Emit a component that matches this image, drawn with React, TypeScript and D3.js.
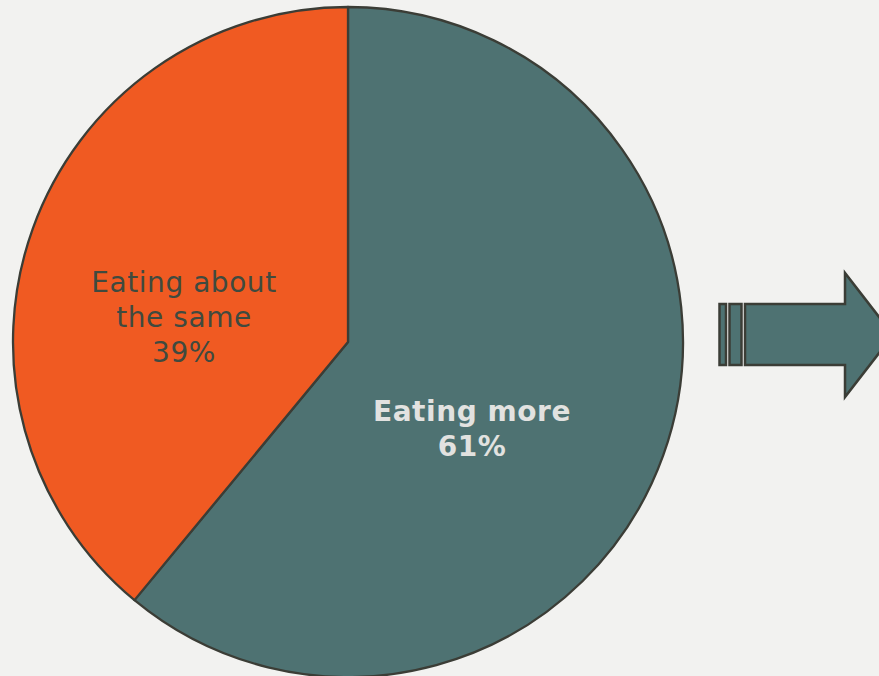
import React from "react";
import * as d3 from "d3";

const categories = ["Eating more", "Eating about the same"];
const values = [61, 39];
const labelLines = [["Eating more", "61%"], ["Eating about", "the same", "39%"]];
const colors = ["#4e7272", "#f05a22"];

const W = 879;
const H = 676;

export default function App() {
  const cx = 348;
  const cy = 342;
  const r = 335;
  const pie = d3.pie<number>().sort(null).value((d) => d);
  const arcs = pie(values);
  const arcGen = d3.arc<d3.PieArcDatum<number>>().innerRadius(0).outerRadius(r);
  const labelPos = [
    { x: 472, y: 421, color: "#e2e2e0", weight: "bold" },
    { x: 184, y: 292, color: "#3f4a3f", weight: "normal" },
  ];
  const lineH = 35;

  // arrow geometry
  const bodyTop = 304, bodyBot = 365, headTop = 273, headBot = 397;
  const bodyX0 = 745, headX = 845, tipX = 893;
  const midY = (headTop + headBot) / 2;
  const arrowPath = `M${bodyX0},${bodyTop} L${headX},${bodyTop} L${headX},${headTop} L${tipX},${midY} L${headX},${headBot} L${headX},${bodyBot} L${bodyX0},${bodyBot} Z`;

  return (
    <svg
      width={W}
      height={H}
      style={{ position: "absolute", left: 0, top: 0, display: "block" }}
      fontFamily="Verdana, 'DejaVu Sans', sans-serif"
    >
      <rect x={0} y={0} width={W} height={H} fill="#f2f2f0" />
      <g transform={`translate(${cx},${cy})`}>
        {arcs.map((a, i) => (
          <path key={categories[i]} d={arcGen(a) || ""} fill={colors[i]} stroke="#3b3d36" strokeWidth={2.3} strokeLinejoin="round" />
        ))}
      </g>
      {labelLines.map((lines, i) => (
        <text
          key={i}
          textAnchor="middle"
          fontSize={28}
          letterSpacing={0.55}
          fill={labelPos[i].color}
          fontWeight={labelPos[i].weight}
        >
          {lines.map((l, j) => (
            <tspan key={j} x={labelPos[i].x} y={labelPos[i].y + j * lineH}>
              {l}
            </tspan>
          ))}
        </text>
      ))}
      <g fill="#4e7272" stroke="#3b3d36" strokeWidth={2.5}>
        <rect x={719.5} y={bodyTop} width={6.5} height={bodyBot - bodyTop} />
        <rect x={729.5} y={bodyTop} width={12} height={bodyBot - bodyTop} />
        <path d={arrowPath} strokeLinejoin="miter" />
      </g>
    </svg>
  );
}
